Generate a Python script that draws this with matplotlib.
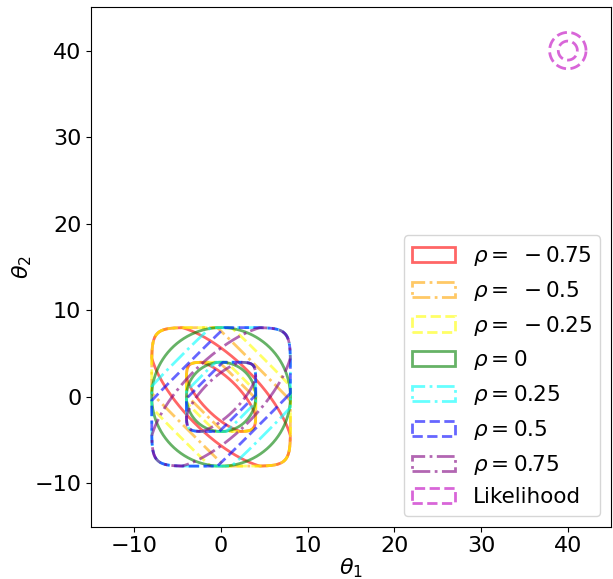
import numpy as np
import matplotlib.pyplot as plt
from matplotlib.patches import Patch

# correlation of each prior and how its contours are drawn
rhos = [-0.75, -0.5, -0.25, 0, 0.25, 0.5, 0.75]
labels = [r"$\rho =\;-0.75$", r"$\rho =\;-0.5$", r"$\rho =\;-0.25$", r"$\rho = 0$",
          r"$\rho = 0.25$", r"$\rho = 0.5$", r"$\rho = 0.75$"]
colors = ["red", "orange", "yellow", "green", "cyan", "blue", "purple"]
styles = ["-", "-.", "--", "-", "-.", "--", "-."]

# contour half-widths (outer, inner) and the shape of each prior's level set
box_half = [8, 4]
band_major = [10.8, 14, 14, 0, 14, 14, 10.8]
band_minor = [4.3, 5.4, 6.6, 0, 6.6, 5.4, 4.3]
band_power = [2, 4, 3, 0, 3, 4, 2]

# likelihood centre and contour radii
lik_center = (40, 40)
lik_radii = [1.1, 2.1]

fs = 16
t = np.linspace(0, 2 * np.pi, 721)
dx, dy = np.cos(t), np.sin(t)


def level_set(rho, b, major, minor, q):
    if rho == 0:
        return b * dx, b * dy
    p = 8
    n_box = (np.abs(dx) ** p + np.abs(dy) ** p) ** (1 / p) / b
    s = np.sign(rho)
    u = (dx + s * dy) / np.sqrt(2)
    v = (-s * dx + dy) / np.sqrt(2)
    scale = b / 8
    n_band = ((np.abs(u) / (major * scale)) ** q + (np.abs(v) / (minor * scale)) ** q) ** (1 / q)
    r = 1 / np.maximum(n_box, n_band)
    return r * dx, r * dy


fig = plt.figure(figsize=(6.13, 5.79), dpi=100)
ax = fig.add_axes([0.1485, 0.0903, 0.8485, 0.8971])

handles = []
for i, rho in enumerate(rhos):
    for b in box_half:
        x, y = level_set(rho, b, band_major[i], band_minor[i], band_power[i])
        ax.plot(x, y, color=colors[i], linestyle=styles[i], lw=2, alpha=0.6)
    handles.append(Patch(facecolor="none", edgecolor=colors[i], linestyle=styles[i],
                         lw=2, alpha=0.6, label=labels[i]))

for r in lik_radii:
    ax.plot(lik_center[0] + r * dx, lik_center[1] + r * dy, color="m",
            linestyle="--", lw=2, alpha=0.6)
handles.append(Patch(facecolor="none", edgecolor="m", linestyle="--", lw=2,
                     alpha=0.6, label="Likelihood"))

ax.set_xlim(-15, 45)
ax.set_ylim(-15, 45)
ax.set_xticks([-10, 0, 10, 20, 30, 40])
ax.set_yticks([-10, 0, 10, 20, 30, 40])
ax.tick_params(labelsize=fs)
ax.set_xlabel(r"$\theta_1$", fontsize=fs, labelpad=0)
ax.set_ylabel(r"$\theta_2$", fontsize=fs, labelpad=0)
ax.legend(handles=handles, loc="lower right", fontsize=15.5)

fig.savefig("out.png", dpi=100)
